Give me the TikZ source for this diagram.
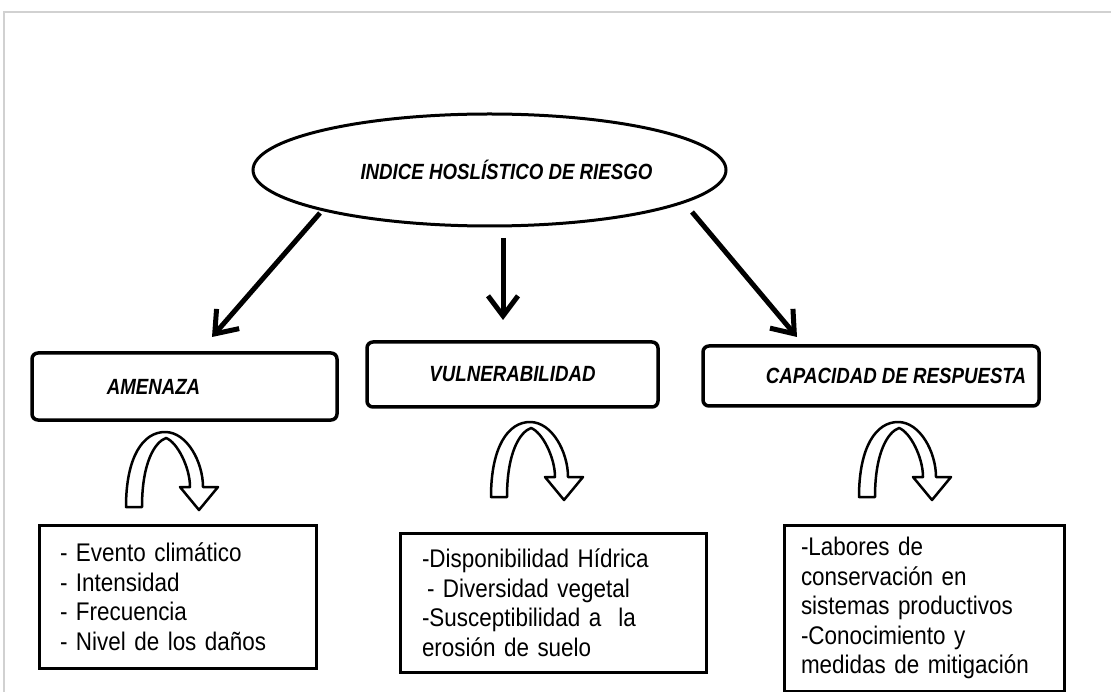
\documentclass[tikz,border=0pt]{standalone}
\usepackage{fontspec}
\setmainfont{Liberation Sans}
\newfontfamily\titlefont{Liberation Sans}[FakeStretch=0.85]
\newfontfamily\listfont{Liberation Sans}[FakeStretch=0.88]
\usetikzlibrary{shapes.geometric,arrows.meta}
\tikzset{
  bigarrow/.style={line width=5pt, -{Straight Barb[length=20pt,width=30pt]}},
  lbox/.style={draw, line width=3.5pt, rounded corners=6pt, inner sep=0pt,
    font=\titlefont\bfseries\itshape\fontsize{22}{26}\selectfont},
  listbox/.style={draw, line width=3pt, inner ysep=0pt, align=left,
    font=\listfont\fontsize{25.5}{29.5}\selectfont},
  uturn/.pic={\draw[line width=2.5pt, line join=round, fill=white]
    (-39,75) .. controls (-39,25) and (-22,0) .. (0,0)
    .. controls (22,0) and (38,30) .. (38,55) -- (53,55) -- (34,78) -- (15,55) -- (25,55)
    .. controls (25,35) and (12,10) .. (1,6)
    .. controls (-10,10) and (-23,30) .. (-23,75) -- cycle;}
}
\begin{document}
\begin{tikzpicture}[x=1pt,y=-1pt]
\useasboundingbox (0,0) rectangle (1111,692);
\draw[black!18, line width=2pt] (4,692) -- (4,12) -- (1111,12);

\node[ellipse, draw, line width=3pt, minimum width=473, minimum height=112, inner sep=0pt,
  font=\titlefont\bfseries\itshape\fontsize{22}{26}\selectfont] (hir) at (489.5,170)
  {\hspace*{34pt}INDICE HOSLÍSTICO DE RIESGO};

\node[lbox, minimum width=305, minimum height=67] (amen) at (184.5,386.5) {\raisebox{-3pt}{AMENAZA}\hspace*{62pt}};
\node[lbox, minimum width=291, minimum height=65] (vul) at (512.5,374.5) {\raisebox{-3pt}{VULNERABILIDAD}};
\node[lbox, minimum width=336, minimum height=60] (cap) at (871,376) {\hspace*{50pt}\raisebox{-2pt}{CAPACIDAD DE RESPUESTA}};

\coordinate (s1) at (320,213);
\coordinate (t1) at (212,337);
\coordinate (s2) at (503,238);
\coordinate (t2) at (503,320);
\coordinate (s3) at (692,212);
\coordinate (t3) at (797,337);
\draw[bigarrow] (s1) -- (t1);
\draw[bigarrow] (s2) -- (t2);
\draw[bigarrow] (s3) -- (t3);

\pic at (165,432) {uturn};
\pic at (530,422) {uturn};
\pic at (898,422) {uturn};

\node[listbox, inner xsep=21pt, text width=235pt, minimum height=143pt] (la) at (177.5,596.5)
  {- Evento climático\\- Intensidad\\- Frecuencia\\- Nivel de los daños};
\node[listbox, inner xsep=22pt, text width=262pt, minimum height=139pt] (lv) at (553,602.5)
  {-Disponibilidad Hídrica\\\hspace*{5pt}- Diversidad vegetal\\-Susceptibilidad a\ \ la\\erosión de suelo};
\node[listbox, inner xsep=17pt, text width=246pt, minimum height=166pt] (lc) at (924,608)
  {-Labores de\\conservación en\\sistemas productivos\\-Conocimiento y\\medidas de mitigación};
\end{tikzpicture}
\end{document}
